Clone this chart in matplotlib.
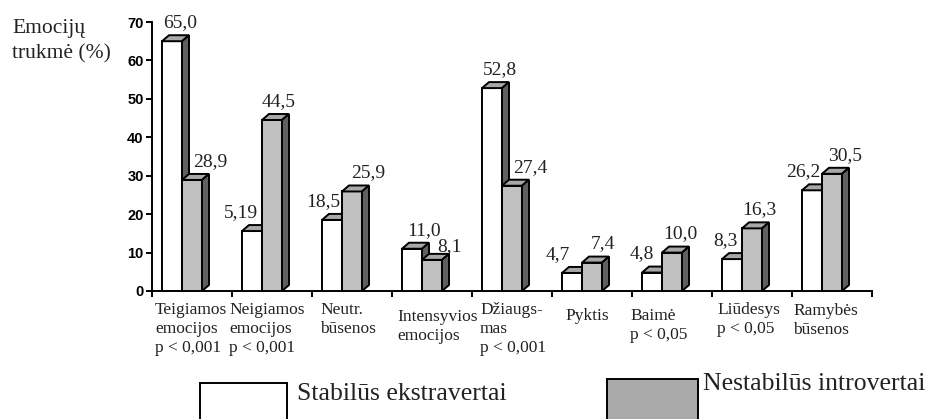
import matplotlib.pyplot as plt
from matplotlib.patches import Rectangle

# data
categories = ["Teigiamos\nemocijos\np < 0,001", "Neigiamos\nemocijos\np < 0,001",
              "Neutr.\nbūsenos", "Intensyvios\nemocijos", "Džiaugs-\nmas\np < 0,001",
              "Pyktis", "Baimė\np < 0,05", "Liūdesys\np < 0,05", "Ramybės\nbūsenos"]
stable_extra = [65.0, 15.6, 18.5, 11.0, 52.8, 4.7, 4.8, 8.3, 26.2]
unstable_intro = [28.9, 44.5, 25.9, 8.1, 27.4, 7.4, 10.0, 16.3, 30.5]
stable_labels = ["65,0", "5,19", "18,5", "11,0", "52,8", "4,7", "4,8", "8,3", "26,2"]
unstable_labels = ["28,9", "44,5", "25,9", "8,1", "27,4", "7,4", "10,0", "16,3", "30,5"]
yticks = [0, 10, 20, 30, 40, 50, 60, 70]

# layout (pixel nudges for the text, as in the original)
stable_dx = [8, -11, -9, 12, 8, -14, -10, -7, -9]
unstable_dx = [18, 7, 16, 17, 18, 11, 8, 7, 13]
unstable_dy = [8, 8, 8, 3, 8, 8, 8, 8, 8]
cat_dx = [3, -3, 8, 5, 8, 13, -2, 5, 1]
cat_dy = [0, 0, 0, 7, 0, 6, 6, 0, 1]

SERIF = "Liberation Serif"
W = 0.25
DX = 0.0875
DY = 1.56
LW = 1.4
FRONT_GRAY = "#c0c0c0"
TOP = "#a8a8a8"
SIDE = "#606060"
TXT = "#222222"

fig = plt.figure(figsize=(9.31, 4.19), dpi=100)
ax = fig.add_axes([152 / 931, 128 / 419, 720 / 931, 269 / 419])


def bar3d(x, h, face, z):
    ax.bar(x, h, width=W, align="edge", color=face, edgecolor="black",
           linewidth=LW, zorder=z)
    ax.fill([x, x + DX, x + W + DX, x + W], [h, h + DY, h + DY, h],
            facecolor=TOP, edgecolor="black", linewidth=LW, zorder=z, clip_on=False)
    ax.fill([x + W, x + W + DX, x + W + DX, x + W], [0, DY, h + DY, h],
            facecolor=SIDE, edgecolor="black", linewidth=LW, zorder=z, clip_on=False)


for i in range(len(categories)):
    xw = i + 0.125
    xg = i + 0.375
    bar3d(xw, stable_extra[i], "white", 2 + 2 * i)
    bar3d(xg, unstable_intro[i], FRONT_GRAY, 3 + 2 * i)
    ax.annotate(stable_labels[i], xy=(xw + W / 2, stable_extra[i] + DY),
                xytext=(stable_dx[i], 8), textcoords="offset pixels",
                ha="center", va="baseline", fontsize=14, family=SERIF, color=TXT)
    ax.annotate(unstable_labels[i], xy=(xg + W / 2, unstable_intro[i] + DY),
                xytext=(unstable_dx[i], unstable_dy[i]), textcoords="offset pixels",
                ha="center", va="baseline", fontsize=14, family=SERIF, color=TXT)
    ax.annotate(categories[i], xy=(i, 0), xytext=(cat_dx[i], -11 - cat_dy[i]),
                textcoords="offset pixels", ha="left", va="top", fontsize=12.5,
                family=SERIF, color=TXT, linespacing=1.25, annotation_clip=False)

ax.set_xlim(0, len(categories))
ax.set_ylim(0, 70)
ax.set_yticks(yticks)
ax.set_yticklabels([str(t) for t in yticks], fontsize=10.5, fontweight="bold",
                   family="Liberation Sans")
ax.set_xticks(range(len(categories) + 1))
ax.set_xticklabels([])
ax.tick_params(direction="out", length=4, width=1.4, pad=2)
for s in ["top", "right"]:
    ax.spines[s].set_visible(False)
for s in ["left", "bottom"]:
    ax.spines[s].set_linewidth(1.4)
ax.patch.set_alpha(0)

# y label
fig.text(12 / 931, (419 - 33) / 419, "Emocijų", fontsize=15.5, family=SERIF,
         color=TXT, va="baseline")
fig.text(12 / 931, (419 - 58) / 419, "trukmė (%)", fontsize=15.5, family=SERIF,
         color=TXT, va="baseline")

# legend
fig.patches.append(Rectangle((200 / 931, -10 / 419), 87 / 931, 46 / 419,
                             transform=fig.transFigure, facecolor="white",
                             edgecolor="black", linewidth=1.4))
fig.patches.append(Rectangle((607 / 931, -10 / 419), 91 / 931, 50 / 419,
                             transform=fig.transFigure, facecolor="#aaaaaa",
                             edgecolor="black", linewidth=1.4))
fig.text(297 / 931, (419 - 400) / 419, "Stabilūs ekstravertai", fontsize=18.5,
         family=SERIF, color=TXT, va="baseline")
fig.text(703 / 931, (419 - 390) / 419, "Nestabilūs introvertai", fontsize=18.5,
         family=SERIF, color=TXT, va="baseline")

fig.savefig("out.png", dpi=100)
